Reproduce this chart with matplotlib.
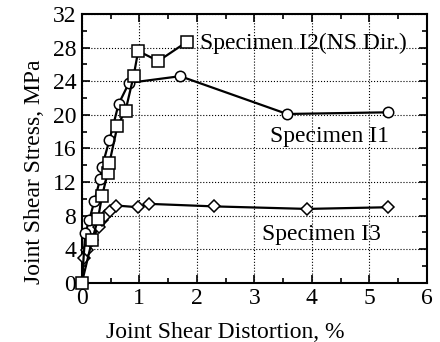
import matplotlib
matplotlib.use('Agg')
import matplotlib.pyplot as plt
from matplotlib.ticker import MultipleLocator

# Specimen I1 (circles)
i1_x = [0.0, 0.06, 0.13, 0.22, 0.32, 0.35, 0.48, 0.64, 0.82, 1.71, 3.57, 5.33]
i1_y = [0.0, 5.9, 7.5, 9.8, 12.4, 13.8, 17.0, 21.3, 23.8, 24.6, 20.1, 20.3]

# Specimen I2 NS dir. (squares)
i2_x = [0.0, 0.18, 0.28, 0.35, 0.45, 0.48, 0.62, 0.76, 0.90, 0.98, 1.33, 1.83]
i2_y = [0.0, 5.1, 7.6, 10.3, 13.1, 14.3, 18.7, 20.5, 24.6, 27.6, 26.4, 28.7]

# Specimen I3 (diamonds)
i3_x = [0.0, 0.03, 0.09, 0.17, 0.29, 0.35, 0.40, 0.49, 0.60, 0.98, 1.17, 2.30, 3.92, 5.33]
i3_y = [0.0, 2.9, 3.9, 5.1, 6.6, 7.5, 8.0, 8.5, 9.2, 9.0, 9.4, 9.1, 8.8, 9.0]

plt.rcParams['font.family'] = ['Liberation Serif', 'DejaVu Serif']

fig = plt.figure(figsize=(4.4, 3.42), dpi=100)
ax = fig.add_axes([0.186, 0.173, 0.784, 0.786])

mk = dict(color='black', linewidth=1.6, markerfacecolor='white',
          markeredgecolor='black', markeredgewidth=1.1, clip_on=False, zorder=3)
ax.plot(i3_x, i3_y, marker='D', markersize=6.5, **mk)
ax.plot(i1_x, i1_y, marker='o', markersize=7.5, **mk)
ax.plot(i2_x, i2_y, marker='s', markersize=8, **mk)

ax.text(2.05, 28.5, 'Specimen I2(NS Dir.)', fontsize=17, va='center', ha='left')
ax.text(3.27, 17.4, 'Specimen I1', fontsize=17, va='center', ha='left')
ax.text(3.13, 5.8, 'Specimen I3', fontsize=17, va='center', ha='left')

ax.set_xlim(0, 6)
ax.set_ylim(0, 32)
ax.xaxis.set_major_locator(MultipleLocator(1))
ax.xaxis.set_minor_locator(MultipleLocator(0.5))
ax.yaxis.set_major_locator(MultipleLocator(4))
ax.yaxis.set_minor_locator(MultipleLocator(2))
ax.tick_params(which='both', direction='in', top=True, right=True, width=1.2)
ax.tick_params(which='major', length=6, labelsize=17, pad=4)
ax.tick_params(which='minor', length=3.5)
ax.grid(True, which='major', linestyle=':', color='black', linewidth=0.8)
for s in ax.spines.values():
    s.set_linewidth(1.5)

ax.set_xlabel('Joint Shear Distortion, %', fontsize=17)
ax.set_ylabel('Joint Shear Stress, MPa', fontsize=17)
ax.xaxis.set_label_coords(0.415, -0.186)
ax.yaxis.set_label_coords(-0.138, 0.413)
ax.xaxis.label.set_va('center')
ax.yaxis.label.set_va('center')

fig.savefig('out.png', dpi=100)
